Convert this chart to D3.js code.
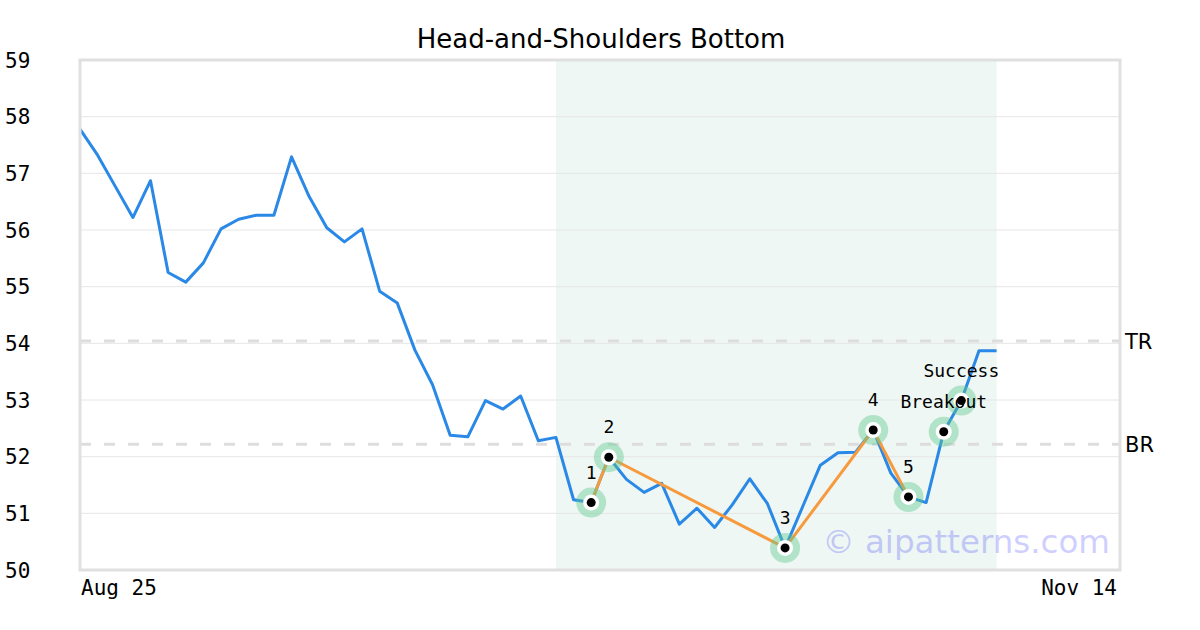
<!DOCTYPE html>
<html>
<head>
<meta charset="utf-8">
<script src="https://cdn.jsdelivr.net/npm/d3@7"></script>
<style>
  body { margin: 0; background: #fff; }
  svg { display: block; }
</style>
</head>
<body>
<div id="chart"></div>
<script>
// ---- data ----
const prices = [
  57.78, 57.32, 56.77, 56.22, 56.87, 55.25, 55.08, 55.42, 56.02, 56.19,
  56.26, 56.26, 57.29, 56.59, 56.04, 55.79, 56.02, 54.92, 54.71, 53.88,
  53.27, 52.38, 52.35, 52.99, 52.84, 53.07, 52.28, 52.34, 51.24, 51.19,
  51.99, 51.60, 51.37, 51.53, 50.81, 51.09, 50.75, 51.15, 51.61, 51.17,
  50.39, 51.12, 51.85, 52.07, 52.08, 52.47, 51.71, 51.29, 51.19, 52.44,
  52.99, 53.87, 53.87
];
const slotCount = 60;              // x axis runs past the last price
const xTickIdx = [0, 59];
const xTickLabels = ["Aug 25", "Nov 14"];
const yTicks = [50, 51, 52, 53, 54, 55, 56, 57, 58, 59];

const patternIdx = [29, 30, 40, 45, 47];
const patternLabels = ["1", "2", "3", "4", "5"];
const signalIdx = [49, 50];
const signalLabels = ["Breakout", "Success"];

const shadeRange = [27, 52];
const levels = [54.04, 52.22];
const levelLabels = ["TR", "BR"];

// ---- layout ----
const W = 1200, H = 630;
const plotL = 80, plotR = 1120, plotT = 60, plotB = 570;
const mono = "'DejaVu Sans Mono', monospace";
const sans = "'DejaVu Sans', sans-serif";

const svg = d3.select('#chart').append('svg')
  .attr('width', W).attr('height', H);

const x = d3.scaleLinear().domain([0, slotCount - 1]).range([plotL, plotR]);
const y = d3.scaleLinear().domain([50, 59]).range([plotB, plotT]);

// title
svg.append('text')
  .attr('x', 601).attr('y', 47.5)
  .attr('text-anchor', 'middle')
  .style('font-family', sans).style('font-size', '26px')
  .text('Head-and-Shoulders Bottom');

// pattern zone shading
svg.append('rect')
  .attr('x', x(shadeRange[0])).attr('y', plotT)
  .attr('width', x(shadeRange[1]) - x(shadeRange[0]))
  .attr('height', plotB - plotT)
  .attr('fill', '#eef7f3');

// grid
svg.append('g').selectAll('line')
  .data(yTicks.slice(1, -1))
  .enter().append('line')
  .attr('x1', plotL).attr('x2', plotR)
  .attr('y1', d => y(d)).attr('y2', d => y(d))
  .attr('stroke', '#e6e6e6').attr('stroke-width', 1);

// y tick labels
svg.append('g').selectAll('text')
  .data(yTicks)
  .enter().append('text')
  .attr('x', 5).attr('y', d => y(d)).attr('dy', '0.36em')
  .style('font-family', mono).style('font-size', '21px')
  .text(d => d);

// x tick labels
svg.append('g').selectAll('text')
  .data(xTickIdx)
  .enter().append('text')
  .attr('x', (d, i) => x(d) + (i === 0 ? 1 : -3)).attr('y', 595)
  .attr('text-anchor', (d, i) => i === 0 ? 'start' : 'end')
  .style('font-family', mono).style('font-size', '21px')
  .text((d, i) => xTickLabels[i]);

// TR / BR levels
const lv = svg.append('g');
lv.selectAll('line')
  .data(levels)
  .enter().append('line')
  .attr('x1', plotL).attr('x2', plotR)
  .attr('y1', d => y(d)).attr('y2', d => y(d))
  .attr('stroke', '#dddddd').attr('stroke-width', 3)
  .attr('stroke-dasharray', '11,13');
lv.selectAll('text')
  .data(levels)
  .enter().append('text')
  .attr('x', 1125).attr('y', d => y(d)).attr('dy', '0.36em')
  .style('font-family', sans).style('font-size', '21px')
  .text((d, i) => levelLabels[i]);

// price line
const line = d3.line().x((d, i) => x(i)).y(d => y(d));
svg.append('path')
  .datum(prices)
  .attr('d', line)
  .attr('fill', 'none')
  .attr('stroke', '#2a88e6').attr('stroke-width', 3)
  .attr('stroke-linejoin', 'round');

// pattern line
const patLine = d3.line().x(i => x(i)).y(i => y(prices[i]));
svg.append('path')
  .datum(patternIdx)
  .attr('d', patLine)
  .attr('fill', 'none')
  .attr('stroke', '#f79a3e').attr('stroke-width', 3);

// markers
const markIdx = patternIdx.concat(signalIdx);
const marks = svg.append('g').selectAll('g')
  .data(markIdx)
  .enter().append('g')
  .attr('transform', i => `translate(${x(i)},${y(prices[i])})`);
marks.append('circle').attr('r', 15).attr('fill', '#5ec990').attr('opacity', 0.42);
marks.append('circle').attr('r', 8).attr('fill', '#fff');
marks.append('circle').attr('r', 4.5).attr('fill', '#000');

// point labels
const markLabels = patternLabels.concat(signalLabels);
svg.append('g').selectAll('text')
  .data(markIdx)
  .enter().append('text')
  .attr('x', i => x(i)).attr('y', i => y(prices[i]) - 24)
  .attr('text-anchor', 'middle')
  .style('font-family', mono).style('font-size', '18px')
  .text((d, k) => markLabels[k]);

// watermark
svg.append('text')
  .attr('x', 1110).attr('y', 553)
  .attr('text-anchor', 'end')
  .attr('fill', '#0000ff').attr('opacity', 0.19)
  .style('font-family', sans).style('font-size', '32.5px')
  .text('\u00a9 aipatterns.com');

// frame
svg.append('rect')
  .attr('x', plotL).attr('y', plotT)
  .attr('width', plotR - plotL).attr('height', plotB - plotT)
  .attr('fill', 'none')
  .attr('stroke', '#e0e0e0').attr('stroke-width', 3);
</script>
</body>
</html>
